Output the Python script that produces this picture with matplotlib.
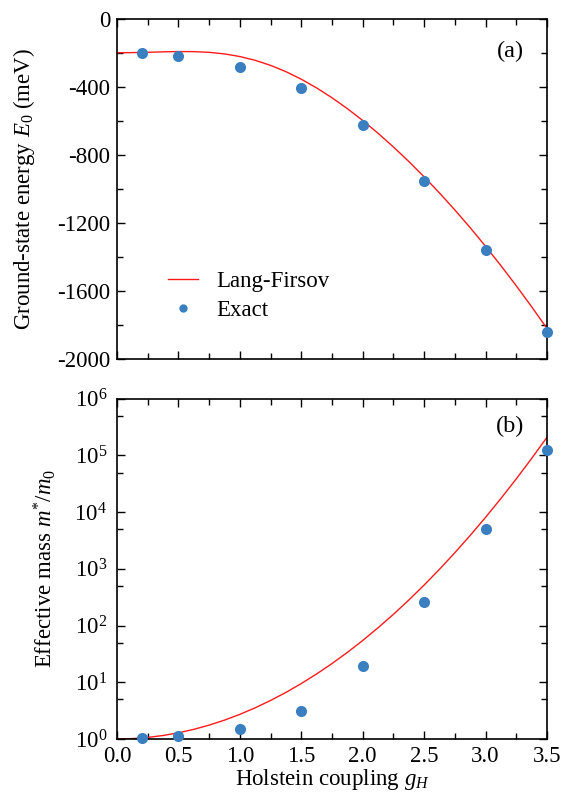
import matplotlib
matplotlib.use("Agg")
import matplotlib.pyplot as plt
from matplotlib.ticker import MultipleLocator, FixedLocator, LogLocator, NullFormatter

plt.rcParams['font.family'] = ['Liberation Serif', 'DejaVu Serif']
plt.rcParams['mathtext.fontset'] = 'custom'
plt.rcParams['mathtext.rm'] = 'Liberation Serif'
plt.rcParams['mathtext.it'] = 'Liberation Serif:italic'
plt.rcParams['axes.unicode_minus'] = False

# ---- data ----
g_exact = [0.2, 0.5, 1.0, 1.5, 2.0, 2.5, 3.0, 3.5]
E_exact = [-204, -219, -284, -407, -627, -952, -1359, -1839]
m_exact = [1.03, 1.13, 1.5, 3.16, 19.1, 264, 5100, 1.26e5]

g_lf = [0.0, 0.125, 0.25, 0.375, 0.5, 0.625, 0.75, 0.875, 1.0, 1.125, 1.25, 1.375,
        1.5, 1.625, 1.75, 1.875, 2.0, 2.125, 2.25, 2.375, 2.5, 2.625, 2.75, 2.875,
        3.0, 3.125, 3.25, 3.375, 3.5]
E_lf = [-200.0, -199.2, -197.2, -194.7, -192.9, -193.4, -197.6, -206.8, -222.2,
        -244.5, -274.1, -311.1, -355.5, -406.7, -464.5, -528.3, -598.1, -673.2,
        -753.6, -838.9, -929.2, -1024.1, -1123.8, -1228.3, -1337.4, -1451.2,
        -1569.6, -1692.6, -1820.4]
m_lf = [1.0, 1.0157, 1.0645, 1.151, 1.284, 1.4779, 1.7551, 2.1503, 2.7183, 3.5453,
        4.7707, 6.6231, 9.4877, 14.023, 21.381, 33.64, 54.598, 91.43, 157.97, 281.6,
        518.0, 983.5, 1925.8, 3891.0, 8103.0, 17422.0, 38638.0, 88436.0, 208981.0]

x_ticks = [0.0, 0.5, 1.0, 1.5, 2.0, 2.5, 3.0, 3.5]
x_ticklabels = ['0.0', '0.5', '1.0', '1.5', '2.0', '2.5', '3.0', '3.5']
E_ticks = [0, -400, -800, -1200, -1600, -2000]
E_ticklabels = ['0', '-400', '-800', '-1200', '-1600', '-2000']

blue = '#3a7fc0'
red = '#ff1a1a'
fs = 16.5

fig = plt.figure(figsize=(5.62, 8.07), dpi=100)
ax1 = fig.add_axes([0.2082, 0.5551, 0.7651, 0.4217])
ax2 = fig.add_axes([0.2082, 0.0843, 0.7651, 0.4216])

for ax in (ax1, ax2):
    ax.tick_params(which='both', direction='in', top=True, right=True, labelsize=fs)
    ax.tick_params(which='major', length=6, width=1)
    ax.tick_params(which='minor', length=4, width=1)
    for s in ax.spines.values():
        s.set_linewidth(1.2)
    ax.set_xlim(0, 3.5)
    ax.xaxis.set_major_locator(FixedLocator(x_ticks))
    ax.xaxis.set_minor_locator(MultipleLocator(0.25))

# ---- panel (a) ----
ax1.plot(g_lf, E_lf, color=red, lw=1.0, label='Lang-Firsov')
ax1.plot(g_exact, E_exact, 'o', color=blue, ms=8, mec='none', label='Exact', clip_on=False, zorder=5)
ax1.set_ylim(-2000, 0)
ax1.yaxis.set_major_locator(FixedLocator(E_ticks))
ax1.set_yticklabels(E_ticklabels)
ax1.yaxis.set_minor_locator(MultipleLocator(200))
ax1.set_xticklabels([])
ax1.tick_params(axis='y', pad=5)
ax1.set_ylabel('Ground-state energy $E_0$ (meV)', fontsize=fs, labelpad=14)
ax1.text(0.915, 0.905, '(a)', transform=ax1.transAxes, fontsize=17.5, ha='center', va='center')
leg = ax1.legend(loc='lower left', bbox_to_anchor=(0.07, 0.05), frameon=False, fontsize=fs,
                 handlelength=1.3, handletextpad=0.8, labelspacing=0.35, markerscale=0.75)

# ---- panel (b) ----
ax2.plot(g_lf, m_lf, color=red, lw=1.0)
ax2.plot(g_exact, m_exact, 'o', color=blue, ms=8, mec='none', clip_on=False, zorder=5)
ax2.set_yscale('log')
ax2.set_ylim(1, 1e6)
ax2.yaxis.set_major_locator(LogLocator(base=10, numticks=10))
ax2.yaxis.set_minor_locator(LogLocator(base=10, subs=[5.0], numticks=10))
ax2.yaxis.set_minor_formatter(NullFormatter())
ax2.set_xticklabels(x_ticklabels)
ax2.tick_params(axis='y', pad=7)
ax2.tick_params(axis='x', pad=5)
ax2.set_ylabel('Effective mass $m^{*}/m_0$', fontsize=fs, labelpad=12)
ax2.set_xlabel('Holstein coupling $g_H$', fontsize=fs, labelpad=0)
ax2.text(0.915, 0.92, '(b)', transform=ax2.transAxes, fontsize=17.5, ha='center', va='center')

fig.savefig('out.png', dpi=100)
